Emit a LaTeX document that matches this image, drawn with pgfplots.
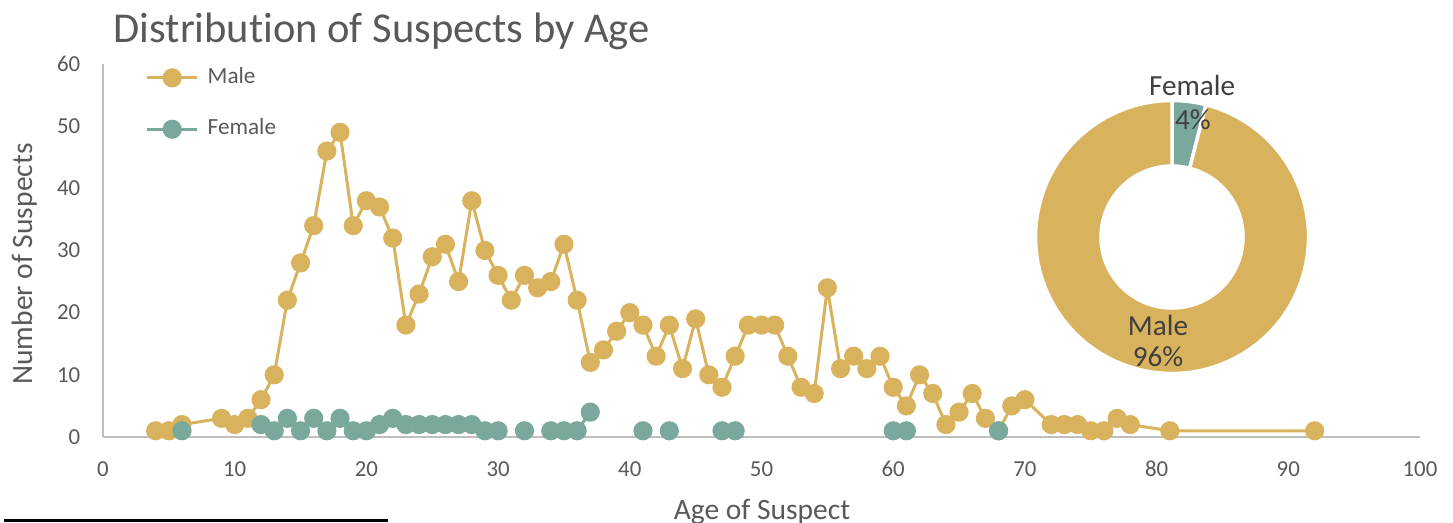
\documentclass[border=0pt]{standalone}
\usepackage{fontspec}
\setmainfont{Carlito}[Ligatures=NoCommon]
\usepackage{pgfplots}
\usepackage{pgfplotstable}
\pgfplotsset{compat=1.18}

\definecolor{gold}{HTML}{D9B25E}
\definecolor{femc}{HTML}{7BA89D}
\definecolor{txt}{HTML}{595959}
\definecolor{lbl}{HTML}{404040}
\definecolor{axgray}{HTML}{BFBFBF}

% suspects per age
\pgfplotstableread{
age n
4 1
5 1
6 2
9 3
10 2
11 3
12 6
13 10
14 22
15 28
16 34
17 46
18 49
19 34
20 38
21 37
22 32
23 18
24 23
25 29
26 31
27 25
28 38
29 30
30 26
31 22
32 26
33 24
34 25
35 31
36 22
37 12
38 14
39 17
40 20
41 18
42 13
43 18
44 11
45 19
46 10
47 8
48 13
49 18
50 18
51 18
52 13
53 8
54 7
55 24
56 11
57 13
58 11
59 13
60 8
61 5
62 10
63 7
64 2
65 4
66 7
67 3
68 1
69 5
70 6
72 2
73 2
74 2
75 1
76 1
77 3
78 2
81 1
92 1
}\male

% nan rows break the line where an age is missing
\pgfplotstableread{
age n
6 1
7 nan
12 2
13 1
14 3
15 1
16 3
17 1
18 3
19 1
20 1
21 2
22 3
23 2
24 2
25 2
26 2
27 2
28 2
29 1
30 1
31 nan
32 1
33 nan
34 1
35 1
36 1
37 4
38 nan
41 1
42 nan
43 1
44 nan
47 1
48 1
49 nan
60 1
61 1
62 nan
68 1
}\female

% shares for the donut (percent)
\def\shareF{4}
\def\shareM{96}

\begin{document}
\begin{tikzpicture}
\useasboundingbox (0,0) rectangle (14.53cm,5.23cm);
\begin{axis}[
    at={(1.03cm,0.86cm)}, anchor=south west,
    scale only axis, width=13.17cm, height=3.73cm,
    xmin=0, xmax=100, ymin=0, ymax=60,
    xtick={0,10,...,100}, ytick={0,10,...,60},
    axis x line=bottom, axis y line=left,
    axis line style={axgray, line width=0.6pt, -},
    major tick length=0pt,
    clip=false,
    unbounded coords=jump,
    /pgf/number format/assume math mode=true,
    tick label style={font=\fontsize{6.5}{7}\selectfont, text=txt, inner sep=0pt},
    xticklabel style={anchor=base, yshift=-0.40cm},
    yticklabel style={anchor=east, xshift=-0.22cm},
    title={Distribution of Suspects by Age},
    title style={at={(axis description cs:0.0076,1.0563)}, anchor=base west,
        yshift=-6pt, font=\fontsize{12.1}{14}\selectfont, text=txt, inner sep=0pt},
    xlabel={Age of Suspect},
    xlabel style={at={(axis description cs:0.5004,-0.2225)}, anchor=base,
        font=\fontsize{8.4}{10}\selectfont, text=txt, inner sep=0pt},
    ylabel={Number of Suspects},
    ylabel style={at={(axis description cs:-0.0539,0.4638)}, anchor=base,
        font=\fontsize{8.4}{10}\selectfont, text=txt, inner sep=0pt},
    legend style={at={(axis description cs:0.0319,0.894)}, anchor=west,
        draw=none, fill=none, inner sep=0pt, row sep=0.30cm,
        font=\fontsize{6.6}{7}\selectfont, text=txt,
        nodes={inner sep=0pt},
        /tikz/every odd column/.append style={column sep=0.09cm}},
    legend cell align=left,
    legend image code/.code={
        \draw[mark repeat=2, mark phase=2] plot coordinates {(0cm,0cm) (0.25cm,0cm) (0.5cm,0cm)};
    },
]
\addplot[gold, line width=0.85pt, mark=*, mark size=2.3pt,
    mark options={draw=none, fill=gold}] table[x=age, y=n] {\male};
\addlegendentry{Male}
\addplot[femc, line width=0.85pt, mark=*, mark size=2.3pt,
    mark options={draw=none, fill=femc}] table[x=age, y=n] {\female};
\addlegendentry{Female}
\end{axis}

% donut of the gender split
\begin{axis}[
    at={(11.72cm,2.86cm)}, anchor=center,
    scale only axis, width=2.73cm, height=2.73cm,
    xmin=-1, xmax=1, ymin=-1, ymax=1,
    hide axis, clip=false,
]
\pgfmathsetmacro{\fang}{360*\shareF/100}
\pgfmathsetmacro{\fend}{90-\fang}
\fill[femc, draw=white, line width=1pt] (axis cs:0,1)
    arc[start angle=90, end angle=\fend, radius=1.365cm]
    -- (axis cs:{0.52*cos(\fend)},{0.52*sin(\fend)})
    arc[start angle=\fend, end angle=90, radius=0.71cm] -- cycle;
\fill[gold, draw=white, line width=1pt] (axis cs:{cos(\fend)},{sin(\fend)})
    arc[start angle=\fend, end angle=-270, radius=1.365cm]
    -- (axis cs:0,0.52)
    arc[start angle=-270, end angle=\fend, radius=0.71cm] -- cycle;
\end{axis}

\begin{scope}[font=\fontsize{8.3}{10}\selectfont, text=lbl]
\node at (11.92cm,4.38cm) {Female};
\node at (11.93cm,4.03cm) {\shareF\%};
\node at (11.58cm,1.98cm) {Male};
\node at (11.58cm,1.66cm) {\shareM\%};
\end{scope}

% footnote rule of the source page
\draw[black, line width=0.6pt] (0.04cm,0.025cm) -- (3.88cm,0.025cm);
\end{tikzpicture}
\end{document}
